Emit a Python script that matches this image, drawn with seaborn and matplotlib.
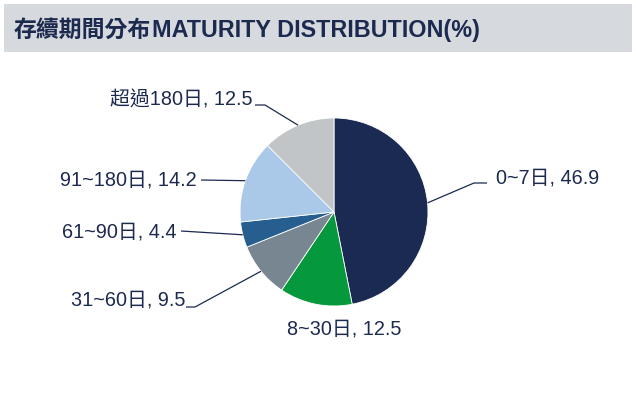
import numpy as np
import pandas as pd
import seaborn as sns
import matplotlib
matplotlib.use("Agg")
import matplotlib.pyplot as plt
from matplotlib.patches import Rectangle

# ---- data ----
categories = ["0~7日", "8~30日", "31~60日", "61~90日", "91~180日", "超過180日"]
values = [46.9, 12.5, 9.5, 4.4, 14.2, 12.5]
title_cjk = "存續期間分布"
title_en = "MATURITY DISTRIBUTION(%)"

colors = ["#1a2a52", "#06983d", "#778690", "#265e90", "#aac8e8", "#c2c5c8"]
text_color = "#1c2a4f"

sns.set_theme(style="white")
plt.rcParams["font.family"] = ["Liberation Sans", "Noto Sans CJK TC"]

W, H = 636, 416
fig = plt.figure(figsize=(W / 100, H / 100), dpi=100)
ax = fig.add_axes([0, 0, 1, 1])

def py(y):
    return H - y

CX, CY, R = 334, py(212), 94
df = pd.DataFrame({"cat": categories, "val": values})
wedges, _ = ax.pie(df["val"], colors=colors, startangle=90, counterclock=False,
                   center=(CX, CY), radius=R,
                   wedgeprops=dict(edgecolor="white", linewidth=0.6))
ax.set_xlim(0, W)
ax.set_ylim(0, H)
ax.set_aspect("equal")
ax.axis("off")

# header band
ax.add_patch(Rectangle((4, py(52)), 628, 48, facecolor="#d6d9dd", edgecolor="none", zorder=0))
t1 = ax.text(14, py(30), title_cjk, fontsize=16.5, fontweight="bold", color=text_color,
             va="center", ha="left", family=["Noto Sans CJK TC"])
fig.canvas.draw()
bb = t1.get_window_extent()
x_end = ax.transData.inverted().transform((bb.x1, bb.y1))[0]
ax.text(x_end + 1, py(30), title_en, fontsize=16.8, fontweight="bold", color=text_color,
        va="center", ha="left", family=["Liberation Sans"])

# label layout (pixel positions of text anchors and leader elbows)
layout = [
    dict(xy=(496, 178), ha="left", pts=[(474, 183), (487, 183)]),
    dict(xy=(344, 329), ha="center", pts=None),
    dict(xy=(185, 300), ha="right", pts=[(195, 307), (186, 307)]),
    dict(xy=(177, 232), ha="right", pts=[(181, 231)]),
    dict(xy=(197, 180), ha="right", pts=[(201, 180)]),
    dict(xy=(253, 100), ha="right", pts=[(265, 105), (255, 105)]),
]

for w, cat, val, lay in zip(wedges, df["cat"], df["val"], layout):
    mid = np.deg2rad((w.theta1 + w.theta2) / 2)
    ex, ey = CX + R * np.cos(mid), CY + R * np.sin(mid)
    if lay["pts"]:
        xs = [ex] + [p[0] for p in lay["pts"]]
        ys = [ey] + [py(p[1]) for p in lay["pts"]]
        ax.plot(xs, ys, color=text_color, lw=0.9, solid_capstyle="butt")
    ax.text(lay["xy"][0], py(lay["xy"][1]), f"{cat}, {val}", fontsize=14.3,
            color=text_color, ha=lay["ha"], va="center")

fig.savefig("out.png", dpi=100, facecolor="white")
